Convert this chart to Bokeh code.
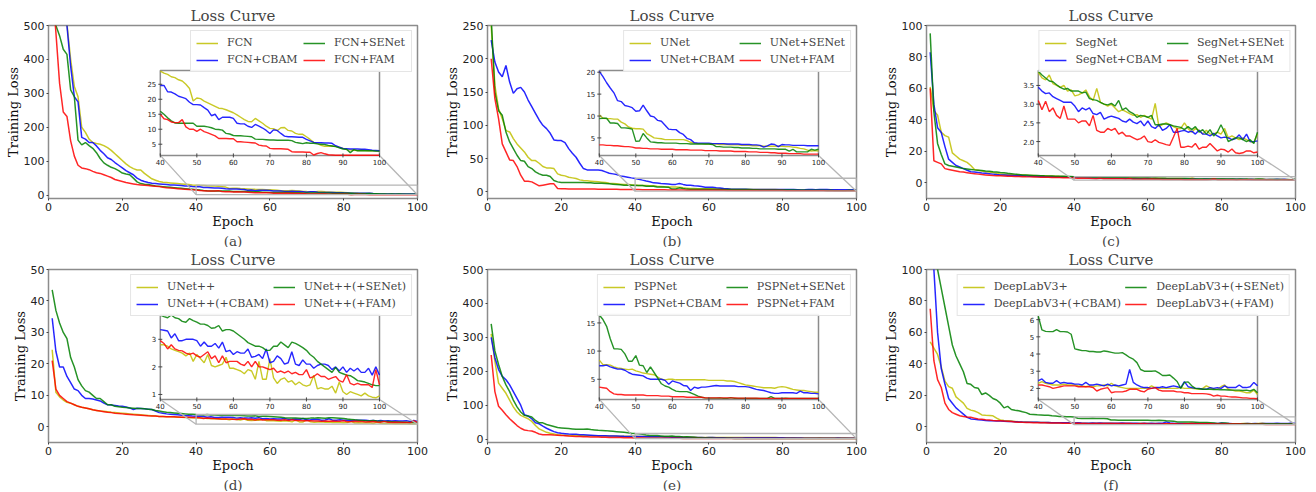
from math import pi
from bokeh.plotting import figure
from bokeh.layouts import row, column
from bokeh.models import Range1d, Title, FixedTicker
from bokeh.core.properties import value
from bokeh.embed import file_html
from bokeh.resources import INLINE

epochs = list(range(1, 101))

# ---------------- (a) FCN ----------------
fcn = [1400, 1000, 780, 620, 505, 400, 320, 290, 200, 185,
       165, 155, 152, 150, 146, 140, 132, 122, 112, 102,
       92, 84, 78, 74, 74, 64, 56, 48, 44, 40,
       38, 37, 36, 35, 34, 33, 32, 31, 30, 29.4,
       28.7, 28.3, 27.5, 27.2, 26.5, 26.1, 25.0, 23.6, 19.4, 20.4,
       20.2, 19.4, 18.8, 18.2, 17.6, 17.0, 16.9, 16.5, 16.0, 15.5,
       14.8, 14.0, 13.2, 12.6, 12.5, 13.6, 12.8, 12.0, 11.0, 10.3,
       10.2, 9.5, 10.5, 10.6, 9.6, 9.4, 8.6, 8.3, 8.3, 7.5,
       6.6, 5.6, 5.3, 4.6, 4.3, 4.3, 4.4, 4.3, 4.0, 3.6,
       3.2, 3.1, 3.0, 2.9, 2.9, 2.9, 2.8, 2.8, 2.8, 2.7]
fcn_cbam = [1500, 1100, 800, 620, 500, 380, 290, 275, 170, 165,
            155, 155, 145, 132, 122, 110, 105, 96, 88, 80,
            72, 66, 60, 50, 44, 40, 37, 35, 34, 33,
            32, 31, 30, 29.5, 29, 28, 27, 26.5, 25.5, 24.6,
            24.6, 22.5, 22.4, 21.8, 21.0, 20.6, 20.2, 19.0, 18.2, 18.2,
            18.1, 17.2, 16.4, 14.5, 15.0, 13.2, 14.0, 14.0, 14.0, 13.6,
            12.0, 11.8, 11.8, 11.0, 10.6, 11.6, 11.0, 10.4, 9.6, 8.6,
            9.8, 9.6, 8.6, 7.7, 7.5, 7.5, 7.4, 7.3, 7.3, 6.6,
            6.1, 5.6, 5.5, 5.5, 5.4, 5.4, 5.3, 4.5, 4.0, 3.6,
            3.5, 3.4, 3.4, 3.4, 3.3, 3.3, 3.2, 3.0, 2.9, 2.8]
fcn_senet = [640, 500, 470, 430, 415, 310, 290, 162, 148, 155,
             146, 138, 125, 108, 95, 88, 82, 78, 72, 65,
             62, 60, 50, 39, 34, 32, 31, 29, 27, 26,
             25, 24, 23, 22, 21, 20, 19, 18, 17, 16.0,
             15.0, 13.8, 12.8, 12.1, 12.0, 12.0, 12.0, 12.0, 12.0, 11.0,
             11.0, 11.0, 10.8, 10.5, 10.0, 9.9, 9.7, 8.6, 8.4, 7.9,
             7.8, 7.8, 7.7, 7.6, 7.5, 6.7, 6.6, 6.6, 6.5, 6.4,
             6.4, 6.3, 6.3, 6.3, 6.3, 6.2, 5.6, 5.4, 5.2, 5.5,
             5.3, 5.3, 5.1, 5.0, 4.9, 4.6, 4.4, 4.2, 3.8, 3.4,
             3.3, 2.2, 3.2, 2.8, 2.9, 2.8, 2.8, 2.8, 2.7, 2.7]
fcn_fam = [620, 480, 330, 245, 232, 160, 115, 88, 80, 78,
           75, 70, 66, 64, 60, 56, 52, 46, 43, 40,
           37, 35, 33, 31, 30, 29, 28, 27, 26, 25,
           23.5, 22, 21, 20, 19, 18, 17.5, 16.8, 16, 15.0,
           13.5, 13.2, 12.4, 12.2, 12.2, 13.2, 10.8, 10.0, 10.0, 9.3,
           10.0, 9.2, 8.8, 8.3, 7.8, 6.9, 6.9, 6.9, 6.8, 6.8,
           5.8, 5.8, 5.7, 5.6, 5.5, 5.4, 4.7, 4.5, 4.4, 3.6,
           3.5, 3.5, 3.5, 3.4, 3.3, 2.5, 2.4, 2.4, 2.4, 2.3,
           2.3, 1.4, 1.9, 2.2, 1.8, 1.5, 1.4, 1.3, 1.3, 1.3,
           1.3, 1.3, 1.3, 1.3, 1.3, 1.3, 1.3, 1.3, 1.3, 1.3]

# ---------------- (b) UNet ----------------
unet = [250, 160, 125, 110, 92, 90, 80, 72, 66, 60,
        52, 47, 47, 43, 38, 36, 36, 35, 27, 25,
        24, 22, 21, 20, 18, 17, 16.5, 16, 15.5, 15,
        14.5, 14, 13, 12.5, 12, 11.5, 11, 11, 10.6, 10.3,
        9.5, 9.4, 9.4, 9.3, 9.3, 8.6, 8.2, 7.5, 7.2, 7.1,
        7.1, 7.0, 6.0, 5.5, 5.0, 4.9, 4.8, 4.6, 4.6, 4.6,
        4.6, 4.6, 4.6, 4.4, 4.0, 3.8, 3.7, 3.7, 3.6, 3.6,
        3.6, 3.6, 3.5, 3.5, 3.5, 3.4, 3.4, 3.4, 3.3, 3.3,
        3.3, 3.2, 3.2, 3.2, 3.1, 3.1, 3.1, 3.1, 3.1, 3.1,
        3.0, 3.0, 2.9, 2.8, 2.6, 2.5, 2.2, 2.0, 2.1, 2.0]
unet_cbam = [228, 195, 180, 173, 190, 165, 148, 155, 157, 150,
             138, 128, 118, 108, 100, 95, 88, 78, 77, 77,
             74, 65, 58, 52, 43, 35, 33, 33, 33, 33,
             32, 30, 28, 27, 26, 24, 23, 22, 21, 20.2,
             19.0, 17.6, 16.4, 15.3, 13.5, 13.3, 12.4, 12.2, 11.9, 11.1,
             11.2, 12.5, 11.2, 10.0, 9.8, 9.0, 8.8, 7.9, 7.0, 6.9,
             6.9, 6.2, 5.8, 4.9, 4.6, 3.9, 3.8, 3.8, 3.8, 3.8,
             3.7, 3.7, 3.7, 3.7, 3.6, 3.6, 3.6, 3.6, 3.5, 3.5,
             3.5, 3.4, 3.4, 3.3, 2.9, 3.2, 3.6, 3.5, 3.0, 3.5,
             3.4, 3.4, 3.3, 3.3, 3.3, 3.3, 3.2, 3.2, 3.2, 3.2]
unet_senet = [262, 150, 122, 115, 90, 75, 65, 55, 47, 46,
              38, 35, 30, 27, 25, 25, 23, 17, 15, 14,
              14, 14, 14, 14, 14, 14, 13.5, 13.5, 13, 13,
              13, 12.5, 12, 11.5, 11, 10.5, 10, 10, 9.8, 9.4,
              9.5, 9.5, 8.4, 8.4, 8.3, 7.3, 7.3, 7.2, 7.0, 4.2,
              4.3, 6.0, 5.0, 4.1, 4.0, 3.9, 3.9, 3.8, 3.8, 3.8,
              3.8, 3.7, 3.7, 3.7, 3.6, 3.6, 3.6, 3.6, 3.6, 3.6,
              3.5, 3.0, 3.0, 2.9, 2.9, 2.9, 2.8, 2.8, 2.7, 2.7,
              2.7, 2.6, 2.6, 2.5, 2.5, 2.5, 2.5, 2.5, 2.4, 2.4,
              2.4, 2.0, 2.4, 1.8, 1.8, 1.8, 1.8, 2.4, 2.2, 2.4]
unet_fam = [200, 140, 110, 72, 60, 48, 47, 38, 25, 16,
            16, 15, 12, 9, 10, 11, 12, 12, 5, 4.5,
            4.5, 4.4, 4.4, 4.3, 4.3, 4.2, 4.2, 4.1, 4.1, 4.0,
            4.0, 3.9, 3.9, 3.8, 3.8, 3.7, 3.6, 3.5, 3.5, 3.4,
            3.4, 3.3, 3.3, 3.2, 3.2, 3.1, 3.0, 3.0, 2.9, 2.7,
            2.7, 2.6, 2.6, 2.5, 2.5, 2.5, 2.4, 2.4, 2.4, 2.4,
            2.3, 2.3, 2.3, 2.3, 2.2, 2.2, 2.2, 2.2, 2.1, 2.1,
            2.1, 2.1, 2.0, 2.0, 2.0, 2.0, 1.9, 1.9, 1.9, 1.9,
            1.8, 1.8, 1.8, 1.7, 1.7, 1.7, 1.6, 1.6, 1.5, 1.5,
            1.5, 1.4, 1.4, 1.4, 1.4, 1.3, 1.3, 1.3, 1.3, 1.3]

# ---------------- (c) SegNet ----------------
segnet = [61, 46, 43, 32, 30, 29, 19, 17, 15, 14,
          13, 11, 8.5, 8, 7.5, 7, 6.8, 6.5, 6, 5.5,
          5.4, 5.3, 5.2, 5.1, 5.0, 4.9, 4.8, 4.7, 4.6, 4.5,
          4.45, 4.4, 4.3, 4.25, 4.2, 4.1, 4.05, 4.0, 3.9, 3.85,
          3.7, 3.65, 3.78, 3.55, 3.5, 3.45, 3.5, 3.35, 3.38, 3.22,
          3.25, 3.3, 3.38, 3.2, 3.1, 3.42, 3.05, 3.0, 2.95, 3.0,
          2.9, 2.8, 2.85, 2.8, 2.75, 2.7, 2.72, 2.65, 2.7, 2.65,
          2.6, 3.02, 2.4, 2.45, 2.5, 2.45, 2.4, 2.35, 2.35, 2.5,
          2.35, 2.25, 2.35, 2.3, 2.2, 2.3, 2.2, 2.2, 2.25, 2.2,
          2.35, 2.1, 2.15, 2.1, 2.05, 2.1, 2.05, 2.0, 1.98, 2.2]
segnet_cbam = [83, 50, 35, 32, 23, 15, 13, 11, 10, 9,
               8, 7, 6.8, 6.5, 6.2, 6, 5.8, 5.5, 5.2, 5,
               4.9, 4.8, 4.7, 4.6, 4.5, 4.4, 4.3, 4.2, 4.1, 4.0,
               3.95, 3.9, 3.85, 3.8, 3.7, 3.65, 3.6, 3.55, 3.5, 3.45,
               3.35, 3.28, 3.3, 3.2, 3.15, 3.1, 3.05, 3.05, 3.05, 2.95,
               2.8, 2.9, 2.85, 2.9, 2.75, 2.72, 2.78, 2.6, 2.65, 2.68,
               2.65, 2.62, 2.55, 2.52, 2.6, 2.52, 2.48, 2.55, 2.42, 2.55,
               2.4, 2.35, 2.45, 2.3, 2.35, 2.45, 2.25, 2.25, 2.28, 2.3,
               2.25, 2.28, 2.2, 2.3, 2.2, 2.2, 2.15, 2.22, 2.15, 2.1,
               2.12, 2.1, 2.05, 2.08, 2.18, 2.05, 2.2, 2.0, 2.0, 2.02]
segnet_senet = [95, 45, 25, 18, 12, 11, 10.5, 10, 9.5, 9,
                8.8, 8.5, 8.2, 8, 7.8, 7.5, 7.3, 7, 6.8, 6.5,
                6.3, 6, 5.8, 5.5, 5.3, 5, 4.9, 4.8, 4.7, 4.6,
                4.5, 4.4, 4.35, 4.3, 4.2, 4.15, 4.1, 4.0, 3.95, 3.88,
                3.78, 3.7, 3.62, 3.6, 3.52, 3.45, 3.4, 3.42, 3.35, 3.35,
                3.35, 3.3, 3.32, 3.15, 3.12, 3.1, 3.05, 3.0, 2.98, 3.02,
                2.95, 3.1, 2.85, 2.9, 2.8, 2.75, 2.65, 2.7, 2.68, 2.65,
                2.7, 2.45, 2.45, 2.47, 2.47, 2.45, 2.42, 2.4, 2.38, 2.32,
                2.4, 2.32, 2.4, 2.25, 2.32, 2.2, 2.32, 2.15, 2.25, 2.45,
                2.25, 2.0, 2.05, 2.1, 2.1, 2.05, 2.0, 2.05, 1.95, 2.25]
segnet_fam = [60, 14, 13, 12, 9, 8.5, 8, 7.5, 7, 6.8,
              6.4, 6, 5.8, 5.5, 5.2, 5, 4.8, 4.6, 4.5, 4.4,
              4.3, 4.2, 4.1, 4.0, 4.0, 3.9, 3.8, 3.75, 3.7, 3.6,
              3.55, 3.5, 3.45, 3.4, 3.3, 3.28, 3.25, 3.2, 3.15, 3.1,
              2.85, 3.08, 2.8, 2.9, 2.7, 2.62, 2.95, 2.6, 2.6, 2.6,
              2.5, 2.55, 2.55, 2.42, 2.7, 2.3, 2.25, 2.25, 2.35, 2.3,
              2.35, 2.2, 2.25, 2.15, 2.15, 2.1, 2.05, 2.08, 2.15, 2.0,
              1.98, 2.05, 1.98, 1.95, 1.92, 1.9, 2.12, 2.35, 1.85, 1.85,
              1.88, 1.85, 1.95, 1.8, 1.85, 1.85, 1.95, 1.85, 1.75, 1.8,
              1.78, 1.72, 1.8, 1.7, 1.68, 1.7, 1.75, 1.75, 1.7, 1.72]

# ---------------- (d) UNet++ ----------------
unetpp = [24.5, 11, 9.5, 8.5, 7.8, 7.5, 7, 6.5, 6.2, 6,
          5.7, 5.4, 5.2, 5, 4.9, 4.8, 4.6, 4.5, 4.4, 4.3,
          4.2, 4.1, 4.0, 3.9, 3.8, 3.7, 3.6, 3.5, 3.4, 3.3,
          3.25, 3.2, 3.15, 3.1, 3.0, 3.0, 2.95, 2.9, 2.85, 2.8,
          2.8, 2.75, 2.65, 2.6, 2.55, 2.5, 2.4, 2.5, 2.2, 2.45,
          2.3, 2.15, 2.45, 2.05, 2.0, 2.05, 2.1, 2.35, 1.95, 1.95,
          1.9, 1.85, 1.75, 1.9, 1.85, 1.55, 2.2, 1.55, 1.55, 2.3,
          1.6, 1.4, 1.55, 1.6, 1.45, 1.5, 1.35, 1.45, 1.35, 1.3,
          1.35, 1.7, 1.2, 1.25, 1.2, 1.2, 1.3, 1.05, 1.45, 1.1,
          1.0, 1.1, 1.05, 1.0, 0.95, 1.05, 0.95, 0.9, 0.88, 0.95]
unetpp_cbam = [34.5, 24, 19, 19, 16, 14, 12, 11.5, 10, 9,
               9, 8.8, 8.5, 8.2, 7.5, 7, 6.9, 6.8, 6.6, 6.5,
               6.3, 6, 5.5, 5.9, 5.8, 5.7, 5.6, 5.5, 5.0, 4.5,
               4.3, 4.1, 4.0, 3.9, 3.8, 3.7, 3.6, 3.5, 3.4, 3.35,
               3.33, 3.3, 3.05, 3.2, 2.95, 2.95, 3.0, 3.0, 3.0, 2.95,
               2.75, 2.9, 2.75, 2.75, 2.85, 2.68, 2.9, 2.55, 2.6, 2.45,
               2.55, 2.5, 2.5, 2.65, 2.35, 2.38, 2.45, 2.3, 2.65, 2.15,
               2.2, 2.4, 2.3, 2.1, 2.15, 2.55, 2.1, 2.05, 2.25, 2.1,
               2.1, 1.95, 2.05, 2.1, 2.1, 2.05, 1.9, 2.0, 1.85, 2.0,
               1.8, 1.95, 1.85, 1.95, 1.8, 1.8, 1.95, 1.7, 2.0, 1.7]
unetpp_senet = [43.5, 37, 33, 30, 28, 22, 19, 15, 13, 11.5,
                11, 10, 9, 9, 8, 7, 7, 6.5, 6.4, 6.2,
                6.1, 6, 5.9, 5.8, 5.8, 5.7, 5.6, 5.5, 5.2, 5,
                4.8, 4.6, 4.5, 4.4, 4.3, 4.2, 4.1, 4.0, 3.95, 3.88,
                3.82, 3.78, 3.88, 3.78, 3.75, 3.65, 3.62, 3.75, 3.68, 3.62,
                3.55, 3.55, 3.5, 3.4, 3.42, 3.5, 3.3, 3.35, 3.35, 3.3,
                3.2, 3.1, 3.0, 2.88, 2.82, 2.75, 2.75, 2.7, 2.6, 2.6,
                2.75, 2.75, 2.9, 2.8, 2.7, 2.9, 2.85, 2.78, 2.7, 2.6,
                2.45, 2.35, 2.2, 2.1, 2.0, 1.9, 1.8, 1.98, 1.8, 1.75,
                1.7, 1.68, 1.6, 1.5, 1.48, 1.45, 1.4, 1.35, 1.32, 1.32]
unetpp_fam = [21, 12, 10, 9, 8, 7.5, 7, 6.5, 6.2, 6,
              5.7, 5.4, 5.2, 5, 4.8, 4.6, 4.5, 4.3, 4.2, 4.1,
              4.0, 3.9, 3.8, 3.75, 3.7, 3.6, 3.5, 3.45, 3.4, 3.3,
              3.25, 3.2, 3.2, 3.15, 3.1, 3.05, 3.0, 3.0, 2.95, 2.95,
              2.85, 2.65, 2.8, 2.65, 2.6, 2.58, 2.5, 2.45, 2.5, 2.4,
              2.35, 2.45, 2.55, 2.3, 2.4, 2.15, 2.4, 2.15, 2.2, 2.2,
              2.2, 2.1, 2.05, 2.2, 2.0, 2.2, 2.0, 2.0, 1.95, 1.9,
              1.95, 1.8, 1.85, 1.78, 1.85, 1.75, 1.8, 1.72, 1.72, 1.9,
              1.6, 1.65, 1.75, 1.65, 1.65, 1.55, 1.6, 1.65, 1.5, 1.45,
              1.72, 1.4, 1.35, 1.4, 1.35, 1.35, 1.35, 1.25, 1.9, 1.35]

# ---------------- (e) PSPNet ----------------
pspnet = [310, 230, 165, 150, 135, 115, 95, 80, 70, 65,
          60, 52, 40, 30, 25, 20, 17, 15, 13, 12,
          11.5, 11, 10.8, 10.5, 10.2, 10, 9.8, 9.6, 9.4, 9.2,
          9.1, 9.0, 8.9, 8.8, 8.7, 8.7, 8.6, 8.5, 8.4, 8.4,
          7.6, 7.6, 7.5, 7.2, 7.0, 6.9, 6.8, 6.7, 6.8, 6.5,
          6.3, 6.1, 6.0, 5.9, 5.8, 5.4, 5.0, 4.9, 5.0, 5.0,
          4.9, 4.9, 4.9, 4.9, 4.9, 4.9, 4.9, 4.9, 4.9, 4.8,
          4.8, 4.8, 4.8, 4.8, 4.7, 4.7, 4.6, 4.4, 4.2, 4.0,
          3.9, 3.8, 3.7, 3.6, 3.5, 3.5, 3.5, 3.4, 3.6, 3.7,
          3.6, 3.4, 3.2, 3.1, 3.0, 3.0, 2.9, 2.8, 2.7, 2.7]
pspnet_cbam = [300, 240, 205, 185, 175, 160, 140, 120, 100, 72,
               68, 60, 48, 45, 38, 32, 27, 22, 19, 17,
               16, 15, 14.5, 14, 13, 12.5, 12, 11.5, 11, 10,
               9.8, 9.6, 9.4, 9.2, 9, 8.6, 8.2, 7.9, 7.6, 7.4,
               7.4, 7.5, 7.2, 7.0, 6.8, 6.8, 6.6, 6.2, 5.9, 5.8,
               5.7, 5.6, 5.2, 5.0, 5.0, 5.0, 5.0, 4.8, 4.1, 4.7,
               4.5, 4.3, 3.9, 3.8, 3.0, 3.6, 3.4, 3.6, 3.6, 3.7,
               3.8, 3.9, 3.8, 3.8, 3.8, 3.8, 3.8, 3.7, 3.7, 3.7,
               3.6, 3.4, 3.2, 3.1, 3.0, 2.8, 2.6, 2.5, 2.5, 2.6,
               2.6, 2.6, 2.6, 2.5, 2.9, 2.6, 2.6, 2.5, 2.5, 2.4]
pspnet_senet = [340, 260, 220, 185, 160, 140, 115, 95, 80, 70,
                68, 65, 55, 48, 48, 43, 40, 37, 34, 33,
                32, 31, 30, 29, 29, 29, 30, 28, 27, 26,
                25.5, 25, 24, 23, 22, 21, 20, 19, 17.5, 16.4,
                15.6, 14.4, 12.2, 10.4, 10.4, 10.3, 9.5, 8.2, 8.2, 9.2,
                7.5, 7.4, 6.2, 7.2, 6.2, 5.2, 4.2, 3.8, 3.6, 3.2,
                2.9, 2.8, 2.8, 2.8, 2.6, 2.3, 2.0, 1.8, 1.7, 1.65,
                1.65, 1.65, 1.7, 1.6, 1.6, 1.75, 1.6, 1.6, 1.6, 1.6,
                1.6, 1.6, 1.6, 1.6, 1.6, 1.6, 1.9, 1.6, 1.6, 1.6,
                1.65, 1.6, 1.6, 1.6, 1.6, 1.6, 1.6, 1.6, 1.6, 1.6]
pspnet_fam = [248, 140, 97, 85, 72, 60, 50, 40, 32, 27,
              25, 24, 20, 15, 13, 13, 13, 12, 11.5, 11,
              10, 9, 8.5, 8, 7.5, 7, 6.8, 6.5, 6.2, 6,
              5.6, 5.3, 5.0, 4.8, 4.6, 4.4, 4.2, 4.0, 3.8, 3.6,
              3.5, 3.4, 2.8, 2.4, 2.3, 2.3, 2.2, 2.2, 2.2, 2.2,
              2.2, 2.2, 2.1, 2.1, 2.1, 2.1, 2.0, 2.0, 2.0, 1.9,
              1.9, 1.9, 1.9, 1.8, 1.8, 1.8, 1.8, 1.8, 1.7, 1.7,
              1.7, 1.7, 1.7, 1.7, 1.7, 1.7, 1.7, 1.65, 1.65, 1.65,
              1.65, 1.65, 1.65, 1.6, 1.6, 1.6, 1.6, 1.6, 1.6, 1.6,
              1.6, 1.6, 1.6, 1.6, 1.6, 1.6, 1.6, 1.6, 1.6, 1.6]

# ---------------- (f) DeepLabV3+ ----------------
dlv3 = [54, 50, 46, 38, 29, 25.5, 24.5, 19, 17, 15,
        11.7, 10.6, 10, 9, 7.5, 7.3, 7.2, 7, 5.5, 4.3,
        4, 3.8, 3.6, 3.4, 3.2, 3.1, 3.0, 2.9, 2.85, 2.8,
        2.75, 2.7, 2.65, 2.6, 2.6, 2.55, 2.5, 2.5, 2.45, 2.3,
        2.4, 2.3, 2.25, 2.2, 2.2, 2.2, 2.25, 2.2, 2.2, 2.2,
        2.15, 2.15, 2.1, 2.15, 2.1, 2.15, 2.15, 2.2, 2.15, 2.3,
        2.15, 2.1, 2.05, 2.0, 2.0, 2.0, 2.0, 2.0, 2.0, 2.0,
        2.15, 2.05, 2.0, 2.0, 2.0, 2.0, 2.0, 2.0, 2.05, 2.0,
        2.0, 2.0, 1.98, 1.95, 2.0, 2.15, 2.05, 1.95, 1.95, 2.1,
        2.2, 1.95, 1.9, 1.85, 1.85, 1.8, 1.75, 1.75, 1.9, 1.65]
dlv3_cbam = [120, 100, 60, 37, 27, 18, 15, 12, 10, 8,
             6, 5, 4.8, 4.5, 4.3, 4, 3.9, 3.8, 3.7, 3.6,
             3.5, 3.4, 3.3, 3.2, 3.1, 3.0, 2.95, 2.9, 2.85, 2.8,
             2.75, 2.7, 2.65, 2.6, 2.6, 2.55, 2.55, 2.5, 2.5, 2.45,
             2.55, 2.35, 2.3, 2.3, 2.45, 2.3, 2.35, 2.3, 2.3, 2.25,
             2.25, 2.2, 2.35, 2.2, 2.2, 2.25, 2.2, 2.15, 2.25, 2.15,
             2.2, 2.15, 2.2, 2.25, 3.1, 2.35, 2.2, 2.1, 2.05, 2.05,
             2.0, 2.05, 2.05, 2.1, 2.05, 2.1, 2.15, 2.1, 2.05, 2.4,
             2.1, 2.05, 2.0, 2.0, 1.95, 1.95, 2.05, 2.0, 2.05, 2.0,
             2.15, 2.05, 2.05, 2.05, 2.2, 2.05, 2.05, 2.1, 2.35, 2.15]
dlv3_senet = [160, 128, 100, 88, 76, 64, 52, 45, 40, 35,
              27.5, 27, 25, 24.5, 20.5, 21.5, 20, 18, 17, 15,
              12, 13, 11, 10.5, 10.2, 9.5, 9, 8, 7.8, 7.6,
              7.5, 7.4, 7.3, 7.0, 6.8, 6.6, 6.5, 6.4, 6.3, 6.2,
              5.4, 5.32, 5.3, 5.3, 5.42, 5.3, 5.3, 5.28, 5.15, 4.3,
              4.25, 4.2, 4.2, 4.15, 4.15, 4.12, 4.12, 4.18, 4.15, 4.1,
              4.05, 4.05, 4.08, 3.95, 3.8, 3.7, 3.5, 3.1, 3.0, 3.0,
              3.0, 3.02, 2.9, 2.75, 2.75, 2.78, 2.6, 2.4, 2.0, 2.35,
              2.38, 2.15, 2.0, 1.98, 1.95, 1.95, 1.95, 1.94, 1.93, 1.92,
              1.92, 1.91, 1.9, 1.9, 1.9, 1.88, 1.9, 1.85, 1.95, 1.75]
dlv3_fam = [75, 42, 30, 25, 15, 11, 9, 8, 7, 6.5,
            6.2, 6, 5.5, 5, 4.8, 4.5, 4.3, 4, 3.9, 3.8,
            3.6, 3.5, 3.3, 3.1, 2.9, 2.8, 2.75, 2.7, 2.6, 2.6,
            2.55, 2.5, 2.45, 2.4, 2.4, 2.35, 2.3, 2.3, 2.25, 2.2,
            2.2, 2.15, 2.1, 2.0, 2.05, 2.1, 2.15, 2.15, 2.15, 2.15,
            2.1, 2.1, 2.1, 2.1, 2.05, 1.85, 1.95, 2.0, 2.05, 1.75,
            1.8, 1.8, 1.8, 1.85, 1.95, 1.95, 1.95, 1.85, 1.8, 1.95,
            2.0, 2.05, 1.9, 1.85, 1.85, 1.85, 1.85, 1.8, 1.8, 1.75,
            1.75, 1.7, 1.7, 1.7, 1.7, 1.68, 1.65, 1.55, 1.6, 1.55,
            1.55, 1.52, 1.5, 1.5, 1.48, 1.45, 1.45, 1.42, 1.42, 1.4]

COLORS = ["#bfbf00", "#0000ff", "#008000", "#ff0000"]
SERIF = "DejaVu Serif"
SANS = "DejaVu Sans"
x_ticks = [0, 20, 40, 60, 80, 100]
inset_x_ticks = [40, 50, 60, 70, 80, 90, 100]

panels = [
    dict(series=[fcn, fcn_cbam, fcn_senet, fcn_fam],
         labels=["FCN", "FCN+CBAM", "FCN+SENet", "FCN+FAM"],
         ylim=(-10, 500), yticks=[0, 100, 200, 300, 400, 500],
         iylim=(1.26, 29.6), iyticks=[5, 10, 15, 20, 25], fmt="{:.0f}", cap="(a)"),
    dict(series=[unet, unet_cbam, unet_senet, unet_fam],
         labels=["UNet", "UNet+CBAM", "UNet+SENet", "UNet+FAM"],
         ylim=(-10, 250), yticks=[0, 50, 100, 150, 200, 250],
         iylim=(1.0, 20.4), iyticks=[5, 10, 15, 20], fmt="{:.0f}", cap="(b)"),
    dict(series=[segnet, segnet_cbam, segnet_senet, segnet_fam],
         labels=["SegNet", "SegNet+CBAM", "SegNet+SENet", "SegNet+FAM"],
         ylim=(-10, 100), yticks=[0, 20, 40, 60, 80, 100],
         iylim=(1.63, 3.9), iyticks=[2.0, 2.5, 3.0, 3.5], fmt="{:.1f}", cap="(c)"),
    dict(series=[unetpp, unetpp_cbam, unetpp_senet, unetpp_fam],
         labels=["UNet++", "UNet++(+CBAM)", "UNet++(+SENet)", "UNet++(+FAM)"],
         ylim=(-5, 50), yticks=[0, 10, 20, 30, 40, 50],
         iylim=(0.82, 3.9), iyticks=[1, 2, 3], fmt="{:.0f}", cap="(d)"),
    dict(series=[pspnet, pspnet_cbam, pspnet_senet, pspnet_fam],
         labels=["PSPNet", "PSPNet+CBAM", "PSPNet+SENet", "PSPNet+FAM"],
         ylim=(-10, 500), yticks=[0, 100, 200, 300, 400, 500],
         iylim=(1.42, 16.5), iyticks=[5, 10, 15], fmt="{:.0f}", cap="(e)"),
    dict(series=[dlv3, dlv3_cbam, dlv3_senet, dlv3_fam],
         labels=["DeepLabV3+", "DeepLabV3+(+CBAM)", "DeepLabV3+(+SENet)", "DeepLabV3+(+FAM)"],
         ylim=(-10, 100), yticks=[0, 20, 40, 60, 80, 100],
         iylim=(1.36, 6.3), iyticks=[2, 3, 4, 5, 6], fmt="{:.0f}", cap="(f)"),
]

for cfg in panels:
    for s in cfg["series"]:
        assert len(s) == 100, (cfg["cap"], len(s))

FW, FH = 369, 173
INSET_FX = (0.303, 0.897)
INSET_FY = (0.249, 0.74)
FRAME_GRAY = "#8c8c8c"


def make_panel(cfg, bl, br, bt, bb):
    y0, y1 = cfg["ylim"]
    p = figure(frame_width=FW, frame_height=FH,
               x_range=Range1d(0, 100), y_range=Range1d(y0, y1),
               output_backend="svg", toolbar_location=None,
               min_border_left=bl, min_border_right=br,
               min_border_top=bt, min_border_bottom=bb)
    p.title.text = "Loss Curve"
    p.title.align = "center"
    p.title.text_font = SERIF
    p.title.text_font_size = "15px"
    p.title.text_font_style = "normal"
    p.title.standoff = 1
    p.xgrid.visible = False
    p.ygrid.visible = False
    p.outline_line_color = FRAME_GRAY
    p.outline_line_width = 1.5
    p.background_fill_color = "white"
    p.border_fill_color = "white"

    p.xaxis.ticker = FixedTicker(ticks=x_ticks)
    p.yaxis.ticker = FixedTicker(ticks=cfg["yticks"])
    p.xaxis.axis_label = "Epoch"
    p.yaxis.axis_label = "Training Loss"
    for ax in (p.xaxis[0], p.yaxis[0]):
        ax.axis_line_color = None
        ax.minor_tick_line_color = None
        ax.major_tick_line_color = "#444444"
        ax.major_tick_in = 0
        ax.major_tick_out = 2
        ax.major_label_standoff = 2
        ax.major_label_text_font = SANS
        ax.major_label_text_font_size = "11px"
        ax.major_label_text_color = "#222222"
        ax.axis_label_text_font = SERIF
        ax.axis_label_text_font_size = "13px"
        ax.axis_label_text_font_style = "normal"
        ax.axis_label_text_color = "#111111"
        ax.axis_label_standoff = 0

    p.add_layout(Title(text=cfg["cap"], align="center", text_font=SERIF,
                       text_font_size="13.5px", text_font_style="normal",
                       standoff=-2), "below")

    # main curves
    for s, lab, col in zip(cfg["series"], cfg["labels"], COLORS):
        p.line(epochs, s, line_color=col, line_width=1.5, line_alpha=0.85,
               legend_label=lab)

    # zoom indicator and connectors
    iy0, iy1 = cfg["iylim"]
    tx0 = 100 * INSET_FX[0]
    tx1 = 100 * INSET_FX[1]
    ty0 = y0 + INSET_FY[0] * (y1 - y0)
    ty1 = y0 + INSET_FY[1] * (y1 - y0)
    p.quad(left=[40], right=[100], bottom=[iy0], top=[iy1],
           fill_color=None, line_color="#b5b5b5", line_width=1.3)
    p.segment(x0=[40, 100], y0=[iy0, iy0], x1=[tx0, tx1], y1=[ty0, ty0],
              line_color="#b5b5b5", line_width=1.3)

    # inset
    ins = p.subplot(x_source=Range1d(40, 100), y_source=Range1d(iy0, iy1),
                    x_target=Range1d(tx0, tx1), y_target=Range1d(ty0, ty1))
    ins.quad(left=[40], right=[100], bottom=[iy0], top=[iy1],
             fill_color="white", line_color=FRAME_GRAY, line_width=1.5)
    for s, col in zip(cfg["series"], COLORS):
        ins.line(epochs[39:], s[39:], line_color=col, line_width=1.4, line_alpha=0.85)
    ins.text(x=inset_x_ticks, y=[iy0] * len(inset_x_ticks),
             text=[str(t) for t in inset_x_ticks], y_offset=4,
             text_align="center", text_baseline="top",
             text_font=value(SANS), text_font_size="7px", text_color="#222222")
    ins.text(x=[40] * len(cfg["iyticks"]), y=cfg["iyticks"],
             text=[cfg["fmt"].format(t) for t in cfg["iyticks"]], x_offset=-4,
             text_align="right", text_baseline="middle",
             text_font=value(SANS), text_font_size="7px", text_color="#222222")
    ins.scatter(x=inset_x_ticks, y=[iy0] * len(inset_x_ticks), marker="dash",
                angle=pi / 2, size=4, line_color="#444444")
    ins.scatter(x=[40] * len(cfg["iyticks"]), y=cfg["iyticks"], marker="dash",
                size=4, line_color="#444444")

    lg = p.legend[0]
    lg.location = "top_right"
    lg.ncols = 2
    lg.label_text_font = SERIF
    lg.label_text_font_size = "11px"
    lg.glyph_width = 22
    lg.glyph_height = 12
    lg.label_height = 12
    lg.label_standoff = 9
    lg.label_width = 72
    lg.spacing = 4
    lg.padding = 5
    lg.margin = 5
    lg.border_line_color = "#cccccc"
    lg.border_line_width = 1
    lg.background_fill_alpha = 0.9
    return p


# (left, right) borders per column, chosen so the frames sit where the reference has them
borders = [(48, 22), (48, 22), (48, 16)]
row1 = [make_panel(panels[i], borders[i][0], borders[i][1], 25, 48) for i in range(3)]
row2 = [make_panel(panels[i + 3], borders[i][0], borders[i][1], 22, 49) for i in range(3)]
layout = column(row(*row1), row(*row2))

open("out.html", "w").write(file_html(layout, INLINE))
